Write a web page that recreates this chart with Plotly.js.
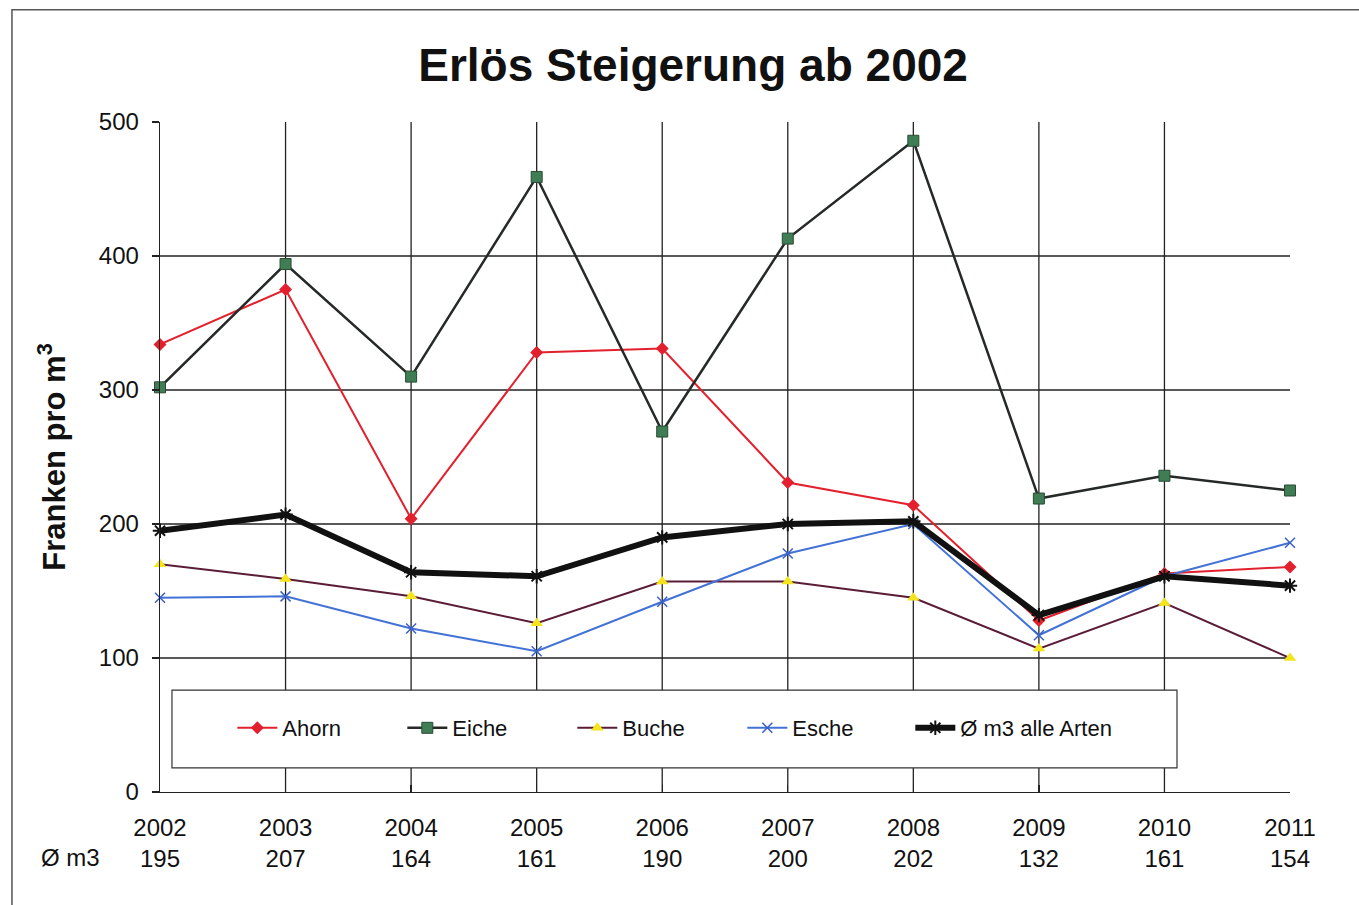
<!DOCTYPE html>
<html>
<head>
<meta charset="utf-8">
<script src="https://cdn.plot.ly/plotly-3.0.1.min.js"></script>
<style>
  html, body { margin: 0; padding: 0; background: #ffffff; }
  #chart { width: 1359px; height: 905px; }
</style>
</head>
<body>
<div id="chart"></div>
<script>
// ---- data ----
const years = [2002, 2003, 2004, 2005, 2006, 2007, 2008, 2009, 2010, 2011];
const ahorn = [334, 375, 204, 328, 331, 231, 214, 128, 163, 168];
const eiche = [302, 394, 310, 459, 269, 413, 486, 219, 236, 225];
const buche = [170, 159, 146, 126, 157, 157, 145, 107, 141, 100];
const esche = [145, 146, 122, 105, 142, 178, 200, 117, 161, 186];
const avgM3 = [195, 207, 164, 161, 190, 200, 202, 132, 161, 154];
const yTicks = [0, 100, 200, 300, 400, 500];
const yGrid = [100, 200, 300, 400];

const FONT = '"Liberation Sans", Arial, Helvetica, sans-serif';

const traces = [
  {
    name: 'Ahorn', x: years, y: ahorn, type: 'scatter', mode: 'lines+markers',
    line: { color: '#e3202d', width: 2 },
    marker: { symbol: 'diamond', size: 10, color: '#e3202d' },
    cliponaxis: false, legend: 'legend'
  },
  {
    name: 'Eiche', x: years, y: eiche, type: 'scatter', mode: 'lines+markers',
    line: { color: '#262a27', width: 2.5 },
    marker: { symbol: 'square', size: 11, color: '#3f7d55', line: { color: '#2a4a35', width: 1 } },
    cliponaxis: false, legend: 'legend'
  },
  {
    name: 'Buche', x: years, y: buche, type: 'scatter', mode: 'lines+markers',
    line: { color: '#5a1c36', width: 2 },
    marker: { symbol: 'triangle-up', size: 11, color: '#f4e41c' },
    cliponaxis: false, legend: 'legend'
  },
  {
    name: 'Esche', x: years, y: esche, type: 'scatter', mode: 'lines+markers',
    line: { color: '#4272d6', width: 2 },
    marker: { symbol: 'x-thin-open', size: 10, color: '#3a60c8', line: { color: '#3a60c8', width: 1.5 } },
    cliponaxis: false, legend: 'legend'
  },
  {
    name: 'Ø m3 alle Arten', x: years, y: avgM3, type: 'scatter', mode: 'lines+markers',
    line: { color: '#111111', width: 6 },
    marker: { symbol: 'asterisk-open', size: 12, color: '#111111', line: { color: '#111111', width: 2 } },
    cliponaxis: false, legend: 'legend2'
  }
];

const shapes = [];
// vertical grid lines at the inner years
years.slice(1, -1).forEach(yr => {
  shapes.push({ type: 'line', xref: 'x', yref: 'paper', x0: yr, x1: yr, y0: 0, y1: 1,
    line: { color: '#222222', width: 1.3 }, layer: 'below' });
});
// horizontal grid lines
yGrid.forEach(v => {
  shapes.push({ type: 'line', xref: 'paper', yref: 'y', x0: 0, x1: 1, y0: v, y1: v,
    line: { color: '#222222', width: 1.3 }, layer: 'below' });
});
// legend box
shapes.push({ type: 'rect', xref: 'paper', yref: 'paper', x0: 0.0106, x1: 0.9, y0: 0.036, y1: 0.152,
  fillcolor: '#ffffff', line: { color: '#333333', width: 1.2 }, layer: 'below' });
// outer frame of the scanned chart
shapes.push({ type: 'rect', xref: 'paper', yref: 'paper', x0: -0.131, x1: 1.2, y0: -0.3, y1: 1.1675,
  fillcolor: 'rgba(0,0,0,0)', line: { color: '#555555', width: 1.5 }, layer: 'below' });

const legendCommon = {
  orientation: 'h', xanchor: 'left', y: 0.0955, yanchor: 'middle',
  bgcolor: 'rgba(0,0,0,0)', borderwidth: 0,
  font: { family: FONT, size: 22, color: '#111111' },
  itemwidth: 40
};

const layout = {
  width: 1359, height: 905,
  margin: { l: 160, r: 69, t: 122, b: 113 },
  paper_bgcolor: '#ffffff', plot_bgcolor: '#ffffff',
  font: { family: FONT, color: '#111111' },
  title: {
    text: '<b>Erlös Steigerung ab 2002</b>',
    font: { family: FONT, size: 46, color: '#111111' },
    x: 0.51, xanchor: 'center', y: 0.928, yanchor: 'middle'
  },
  showlegend: true,
  legend: Object.assign({}, legendCommon, { x: 0.064, entrywidth: 115, entrywidthmode: 'pixels' }),
  legend2: Object.assign({}, legendCommon, { x: 0.664 }),
  xaxis: {
    range: [2002, 2011], fixedrange: true,
    tickvals: years,
    ticktext: years.map((yr, i) => yr + '<br>' + avgM3[i]),
    tickfont: { family: FONT, size: 24, color: '#111111' },
    showgrid: false, zeroline: false,
    showline: true, linecolor: '#222222', linewidth: 1.3,
    ticks: 'inside', ticklen: 7, tickcolor: '#222222', tickwidth: 1.3,
    ticklabelstandoff: 14
  },
  yaxis: {
    range: [0, 500], fixedrange: true,
    tickvals: yTicks,
    tickfont: { family: FONT, size: 24, color: '#111111' },
    showgrid: false, zeroline: false,
    showline: true, linecolor: '#222222', linewidth: 1.3,
    ticks: 'outside', ticklen: 7, tickcolor: '#222222', tickwidth: 1.3,
    ticklabelstandoff: 8,
    title: {
      text: '<b>Franken pro m<sup>3</sup></b>',
      font: { family: FONT, size: 31, color: '#111111' },
      standoff: 24
    }
  },
  shapes: shapes,
  annotations: [
    { text: 'Ø m3', xref: 'paper', yref: 'paper', x: 0, y: 0, xanchor: 'center', yanchor: 'middle',
      xshift: -90, yshift: -65, showarrow: false,
      font: { family: FONT, size: 24, color: '#111111' } }
  ]
};

Plotly.newPlot('chart', traces, layout, { displayModeBar: false, staticPlot: true });
</script>
</body>
</html>
